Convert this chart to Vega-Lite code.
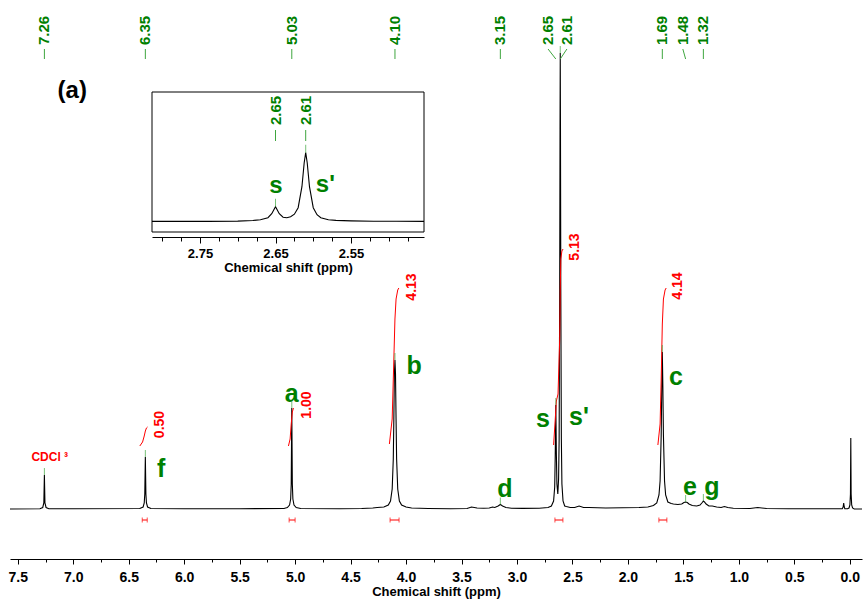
{
  "$schema": "https://vega.github.io/schema/vega-lite/v6.json",
  "width": 852,
  "height": 559,
  "autosize": {"type": "none"},
  "padding": {"left": 10, "top": 0, "right": 5, "bottom": 41},
  "config": {"view": {"stroke": null}, "font": "Liberation Sans"},
  "data": {"values": [
      {"ppm": -0.11, "i": 0}, {"ppm": -0.04, "i": 0}, {"ppm": -0.025, "i": 1}, {"ppm": -0.017, "i": 4}, {"ppm": -0.012, "i": 15}, {"ppm": -0.009, "i": 71}, {"ppm": -0.006, "i": 15}, {"ppm": -0.001, "i": 4}, {"ppm": 0.007, "i": 1}, {"ppm": 0.02, "i": 0.3},
      {"ppm": 0.045, "i": 0.3}, {"ppm": 0.05, "i": 2}, {"ppm": 0.055, "i": 6}, {"ppm": 0.06, "i": 2}, {"ppm": 0.068, "i": 0.3}, {"ppm": 0.3, "i": 0.3}, {"ppm": 0.55, "i": 0.2}, {"ppm": 0.75, "i": 0.5}, {"ppm": 0.83, "i": 1.5}, {"ppm": 0.9, "i": 0.5},
      {"ppm": 1.05, "i": 0.8}, {"ppm": 1.1, "i": 1.5}, {"ppm": 1.13, "i": 2.5}, {"ppm": 1.16, "i": 1.5}, {"ppm": 1.2, "i": 2}, {"ppm": 1.24, "i": 3}, {"ppm": 1.27, "i": 3}, {"ppm": 1.295, "i": 5}, {"ppm": 1.31, "i": 7}, {"ppm": 1.32, "i": 8},
      {"ppm": 1.33, "i": 6.5}, {"ppm": 1.35, "i": 4}, {"ppm": 1.38, "i": 3}, {"ppm": 1.42, "i": 3.5}, {"ppm": 1.45, "i": 5}, {"ppm": 1.465, "i": 6.5}, {"ppm": 1.48, "i": 7}, {"ppm": 1.495, "i": 6.5}, {"ppm": 1.515, "i": 5}, {"ppm": 1.55, "i": 4.5},
      {"ppm": 1.59, "i": 5}, {"ppm": 1.61, "i": 5.5}, {"ppm": 1.64, "i": 7}, {"ppm": 1.66, "i": 14}, {"ppm": 1.67, "i": 28}, {"ppm": 1.68, "i": 74}, {"ppm": 1.685, "i": 122}, {"ppm": 1.69, "i": 157}, {"ppm": 1.695, "i": 122}, {"ppm": 1.7, "i": 74},
      {"ppm": 1.71, "i": 28}, {"ppm": 1.72, "i": 14}, {"ppm": 1.74, "i": 6}, {"ppm": 1.77, "i": 3.5}, {"ppm": 1.82, "i": 2}, {"ppm": 1.9, "i": 1.5}, {"ppm": 2.05, "i": 1.2}, {"ppm": 2.2, "i": 1}, {"ppm": 2.35, "i": 1.5}, {"ppm": 2.4, "i": 1.5},
      {"ppm": 2.44, "i": 3}, {"ppm": 2.48, "i": 1.5}, {"ppm": 2.52, "i": 1.5}, {"ppm": 2.555, "i": 2.5}, {"ppm": 2.57, "i": 3}, {"ppm": 2.585, "i": 8}, {"ppm": 2.595, "i": 25}, {"ppm": 2.6, "i": 70}, {"ppm": 2.605, "i": 220}, {"ppm": 2.608, "i": 380},
      {"ppm": 2.61, "i": 456}, {"ppm": 2.612, "i": 380}, {"ppm": 2.615, "i": 220}, {"ppm": 2.62, "i": 70}, {"ppm": 2.625, "i": 30}, {"ppm": 2.632, "i": 15}, {"ppm": 2.64, "i": 25}, {"ppm": 2.645, "i": 55}, {"ppm": 2.65, "i": 104}, {"ppm": 2.655, "i": 55},
      {"ppm": 2.66, "i": 22}, {"ppm": 2.67, "i": 8}, {"ppm": 2.69, "i": 3}, {"ppm": 2.72, "i": 1.5}, {"ppm": 2.8, "i": 0.8}, {"ppm": 2.95, "i": 0.6}, {"ppm": 3.05, "i": 0.8}, {"ppm": 3.1, "i": 1.5}, {"ppm": 3.13, "i": 3}, {"ppm": 3.15, "i": 4.5},
      {"ppm": 3.17, "i": 3}, {"ppm": 3.2, "i": 1.5}, {"ppm": 3.22, "i": 2}, {"ppm": 3.25, "i": 1}, {"ppm": 3.3, "i": 0.8}, {"ppm": 3.36, "i": 1}, {"ppm": 3.41, "i": 2}, {"ppm": 3.45, "i": 0.5}, {"ppm": 3.6, "i": 0.3}, {"ppm": 3.8, "i": 0.5},
      {"ppm": 3.95, "i": 1}, {"ppm": 4.0, "i": 2}, {"ppm": 4.04, "i": 4}, {"ppm": 4.06, "i": 8}, {"ppm": 4.075, "i": 20}, {"ppm": 4.085, "i": 50}, {"ppm": 4.09, "i": 90}, {"ppm": 4.095, "i": 135}, {"ppm": 4.1, "i": 149}, {"ppm": 4.105, "i": 135},
      {"ppm": 4.11, "i": 90}, {"ppm": 4.115, "i": 50}, {"ppm": 4.125, "i": 20}, {"ppm": 4.14, "i": 8}, {"ppm": 4.16, "i": 4}, {"ppm": 4.2, "i": 2}, {"ppm": 4.26, "i": 1.5}, {"ppm": 4.3, "i": 1}, {"ppm": 4.4, "i": 0.5}, {"ppm": 4.6, "i": 0.3},
      {"ppm": 4.95, "i": 0.5}, {"ppm": 4.99, "i": 1.5}, {"ppm": 5.01, "i": 4}, {"ppm": 5.02, "i": 10}, {"ppm": 5.025, "i": 25}, {"ppm": 5.03, "i": 101}, {"ppm": 5.035, "i": 25}, {"ppm": 5.04, "i": 10}, {"ppm": 5.05, "i": 4}, {"ppm": 5.07, "i": 1.5},
      {"ppm": 5.1, "i": 0.5}, {"ppm": 5.5, "i": 0.3}, {"ppm": 6.0, "i": 0.3}, {"ppm": 6.3, "i": 0.5}, {"ppm": 6.33, "i": 2}, {"ppm": 6.34, "i": 6}, {"ppm": 6.345, "i": 15}, {"ppm": 6.35, "i": 52}, {"ppm": 6.355, "i": 15}, {"ppm": 6.36, "i": 6},
      {"ppm": 6.37, "i": 2}, {"ppm": 6.4, "i": 0.5}, {"ppm": 7.0, "i": 0.3}, {"ppm": 7.22, "i": 0.3}, {"ppm": 7.245, "i": 1.5}, {"ppm": 7.255, "i": 6}, {"ppm": 7.26, "i": 34}, {"ppm": 7.265, "i": 6}, {"ppm": 7.275, "i": 1.5}, {"ppm": 7.3, "i": 0.3},
      {"ppm": 7.57, "i": 0}
  ]},
  "layer": [
    {
      "mark": {"type": "line", "color": "black", "strokeWidth": 1.1},
      "encoding": {
        "x": {
          "field": "ppm", "type": "quantitative",
          "scale": {"domain": [-0.11, 7.57], "reverse": true, "nice": false, "zero": false},
          "axis": {
            "orient": "bottom",
            "title": "Chemical shift (ppm)",
            "values": [0, 0.5, 1, 1.5, 2, 2.5, 3, 3.5, 4, 4.5, 5, 5.5, 6, 6.5, 7, 7.5],
            "format": ".1f",
            "tickSize": 5,
            "grid": false, "domainColor": "#000", "tickColor": "#000",
            "labelColor": "#000", "labelFontSize": 14, "labelFontWeight": "bold", "labelPadding": 6,
            "labelFlush": false, "labelOverlap": false,
            "titleColor": "#000", "titleFontSize": 13, "titleFontWeight": "bold", "titlePadding": 1
          }
        },
        "y": {"field": "i", "type": "quantitative", "scale": {"domain": [-50, 509], "nice": false, "zero": false}, "axis": null}
      }
    },
    {
      "data": {"values": [
        {"g": "f", "ppm": 6.4, "i": 63}, {"g": "f", "ppm": 6.375, "i": 67}, {"g": "f", "ppm": 6.36, "i": 73}, {"g": "f", "ppm": 6.35, "i": 78}, {"g": "f", "ppm": 6.34, "i": 81}, {"g": "f", "ppm": 6.33, "i": 82},
        {"g": "a", "ppm": 5.06, "i": 63}, {"g": "a", "ppm": 5.045, "i": 70}, {"g": "a", "ppm": 5.035, "i": 85}, {"g": "a", "ppm": 5.025, "i": 97}, {"g": "a", "ppm": 5.015, "i": 101},
        {"g": "b", "ppm": 4.15, "i": 65}, {"g": "b", "ppm": 4.125, "i": 90}, {"g": "b", "ppm": 4.11, "i": 150}, {"g": "b", "ppm": 4.1, "i": 190}, {"g": "b", "ppm": 4.09, "i": 210}, {"g": "b", "ppm": 4.075, "i": 219}, {"g": "b", "ppm": 4.065, "i": 221},
        {"g": "s", "ppm": 2.67, "i": 64}, {"g": "s", "ppm": 2.655, "i": 90}, {"g": "s", "ppm": 2.645, "i": 108}, {"g": "s", "ppm": 2.63, "i": 115}, {"g": "s", "ppm": 2.615, "i": 170}, {"g": "s", "ppm": 2.61, "i": 220}, {"g": "s", "ppm": 2.605, "i": 250}, {"g": "s", "ppm": 2.595, "i": 258}, {"g": "s", "ppm": 2.585, "i": 260},
        {"g": "c", "ppm": 1.73, "i": 64}, {"g": "c", "ppm": 1.71, "i": 85}, {"g": "c", "ppm": 1.7, "i": 130}, {"g": "c", "ppm": 1.69, "i": 185}, {"g": "c", "ppm": 1.68, "i": 210}, {"g": "c", "ppm": 1.665, "i": 219}, {"g": "c", "ppm": 1.655, "i": 221}
      ]},
      "mark": {"type": "line", "color": "#ff0000", "strokeWidth": 1},
      "encoding": {
        "x": {
          "field": "ppm", "type": "quantitative",
          "scale": {"domain": [-0.11, 7.57], "reverse": true, "nice": false, "zero": false},
          "axis": {
            "orient": "bottom", "title": null,
            "values": [0.25, 0.75, 1.25, 1.75, 2.25, 2.75, 3.25, 3.75, 4.25, 4.75, 5.25, 5.75, 6.25, 6.75, 7.25],
            "tickSize": 3, "labels": false, "domain": false, "grid": false, "tickColor": "#000"
          }
        },
        "y": {"field": "i", "type": "quantitative", "scale": {"domain": [-50, 509], "nice": false, "zero": false}, "axis": null},
        "detail": {"field": "g", "type": "nominal"}
      }
    },
    {
      "data": {"values": [
        {"x1": 6.378, "x2": 6.333, "yb": -11},
        {"x1": 5.054, "x2": 5.0, "yb": -11},
        {"x1": 4.144, "x2": 4.063, "yb": -11},
        {"x1": 2.658, "x2": 2.586, "yb": -11},
        {"x1": 1.721, "x2": 1.649, "yb": -11}
      ]},
      "mark": {"type": "errorbar", "color": "#ff0000", "ticks": {"size": 5, "color": "#ff0000"}, "rule": {"color": "#ff0000"}},
      "encoding": {
        "x": {"field": "x1", "type": "quantitative", "scale": {"domain": [-0.11, 7.57], "reverse": true, "nice": false, "zero": false}, "axis": null},
        "x2": {"field": "x2"},
        "y": {"field": "yb", "type": "quantitative", "scale": {"domain": [-50, 509], "nice": false, "zero": false}, "axis": null}
      }
    },
    {
      "data": {"values": [
        {"t": "0.50", "ppm": 6.216, "i": 84.5},
        {"t": "1.00", "ppm": 4.892, "i": 104},
        {"t": "4.13", "ppm": 3.946, "i": 222},
        {"t": "5.13", "ppm": 2.473, "i": 262},
        {"t": "4.14", "ppm": 1.55, "i": 223}
      ]},
      "mark": {"type": "text", "color": "#ff0000", "fontSize": 14, "fontWeight": "bold", "angle": 270, "align": "center", "baseline": "middle"},
      "encoding": {
        "x": {"field": "ppm", "type": "quantitative", "scale": {"domain": [-0.11, 7.57], "reverse": true, "nice": false, "zero": false}, "axis": null},
        "y": {"field": "i", "type": "quantitative", "scale": {"domain": [-50, 509], "nice": false, "zero": false}, "axis": null},
        "text": {"field": "t", "type": "nominal"}
      }
    },
    {
      "data": {"values": [
        {"ppm": 7.26, "lx": 7.26, "label": "7.26", "h": 34},
        {"ppm": 6.35, "lx": 6.35, "label": "6.35", "h": 52},
        {"ppm": 5.03, "lx": 5.03, "label": "5.03", "h": 101},
        {"ppm": 4.1, "lx": 4.1, "label": "4.10", "h": 149},
        {"ppm": 3.15, "lx": 3.15, "label": "3.15", "h": 4.5},
        {"ppm": 2.65, "lx": 2.72, "label": "2.65", "h": 104},
        {"ppm": 2.61, "lx": 2.55, "label": "2.61", "h": 456},
        {"ppm": 1.69, "lx": 1.69, "label": "1.69", "h": 157},
        {"ppm": 1.48, "lx": 1.505, "label": "1.48", "h": 7},
        {"ppm": 1.32, "lx": 1.32, "label": "1.32", "h": 8}
      ]},
      "layer": [
        {
          "mark": {"type": "tick", "color": "#3fa63f", "orient": "vertical", "size": 7, "thickness": 1, "yOffset": -3.5},
          "encoding": {
            "x": {"field": "ppm", "type": "quantitative", "scale": {"domain": [-0.11, 7.57], "reverse": true, "nice": false, "zero": false}, "axis": null},
            "y": {"field": "h", "type": "quantitative", "scale": {"domain": [-50, 509], "nice": false, "zero": false}, "axis": null}
          }
        },
        {
          "mark": {"type": "rule", "color": "#3fa63f", "strokeWidth": 1},
          "encoding": {
            "x": {"field": "lx", "type": "quantitative", "scale": {"domain": [-0.11, 7.57], "reverse": true, "nice": false, "zero": false}, "axis": null},
            "x2": {"field": "ppm"},
            "y": {"datum": 460, "type": "quantitative", "scale": {"domain": [-50, 509], "nice": false, "zero": false}, "axis": null},
            "y2": {"datum": 450}
          }
        },
        {
          "mark": {"type": "text", "color": "#008000", "fontSize": 15, "fontWeight": "bold", "angle": 270, "align": "left", "baseline": "middle"},
          "encoding": {
            "x": {"field": "lx", "type": "quantitative", "scale": {"domain": [-0.11, 7.57], "reverse": true, "nice": false, "zero": false}, "axis": null},
            "y": {"datum": 464, "type": "quantitative", "scale": {"domain": [-50, 509], "nice": false, "zero": false}, "axis": null},
            "text": {"field": "label", "type": "nominal"}
          }
        }
      ]
    },
    {
      "data": {"values": [
        {"t": "a", "ppm": 5.03, "i": 107},
        {"t": "b", "ppm": 3.928, "i": 135},
        {"t": "c", "ppm": 1.568, "i": 124},
        {"t": "d", "ppm": 3.108, "i": 12},
        {"t": "e", "ppm": 1.441, "i": 14},
        {"t": "f", "ppm": 6.207, "i": 32},
        {"t": "g", "ppm": 1.243, "i": 14},
        {"t": "s", "ppm": 2.766, "i": 82},
        {"t": "s'", "ppm": 2.441, "i": 84}
      ]},
      "mark": {"type": "text", "color": "#008000", "fontSize": 25, "fontWeight": "bold", "align": "center", "baseline": "alphabetic"},
      "encoding": {
        "x": {"field": "ppm", "type": "quantitative", "scale": {"domain": [-0.11, 7.57], "reverse": true, "nice": false, "zero": false}, "axis": null},
        "y": {"field": "i", "type": "quantitative", "scale": {"domain": [-50, 509], "nice": false, "zero": false}, "axis": null},
        "text": {"field": "t", "type": "nominal"}
      }
    },
    {
      "data": {"values": [{"t": "CDCl ³", "ppm": 7.212, "i": 48}]},
      "mark": {"type": "text", "color": "#ff0000", "fontSize": 12, "fontWeight": "bold", "align": "center", "baseline": "alphabetic"},
      "encoding": {
        "x": {"field": "ppm", "type": "quantitative", "scale": {"domain": [-0.11, 7.57], "reverse": true, "nice": false, "zero": false}, "axis": null},
        "y": {"field": "i", "type": "quantitative", "scale": {"domain": [-50, 509], "nice": false, "zero": false}, "axis": null},
        "text": {"field": "t", "type": "nominal"}
      }
    },
    {
      "data": {"values": [{"t": "(a)", "ppm": 7.009, "i": 411}]},
      "mark": {"type": "text", "color": "#000000", "fontSize": 24, "fontWeight": "bold", "align": "center", "baseline": "alphabetic"},
      "encoding": {
        "x": {"field": "ppm", "type": "quantitative", "scale": {"domain": [-0.11, 7.57], "reverse": true, "nice": false, "zero": false}, "axis": null},
        "y": {"field": "i", "type": "quantitative", "scale": {"domain": [-50, 509], "nice": false, "zero": false}, "axis": null},
        "text": {"field": "t", "type": "nominal"}
      }
    },
    {
      "data": {"values": [
        {"ppm": 2.4533, "i": 0.3}, {"ppm": 2.49, "i": 0.4}, {"ppm": 2.52, "i": 0.5}, {"ppm": 2.55, "i": 0.8}, {"ppm": 2.57, "i": 1.3}, {"ppm": 2.58, "i": 2}, {"ppm": 2.59, "i": 4}, {"ppm": 2.595, "i": 7}, {"ppm": 2.6, "i": 14}, {"ppm": 2.605, "i": 35},
        {"ppm": 2.608, "i": 59}, {"ppm": 2.61, "i": 69}, {"ppm": 2.612, "i": 59}, {"ppm": 2.615, "i": 35}, {"ppm": 2.62, "i": 14}, {"ppm": 2.625, "i": 7.5}, {"ppm": 2.63, "i": 5}, {"ppm": 2.635, "i": 4}, {"ppm": 2.64, "i": 4.5}, {"ppm": 2.645, "i": 8},
        {"ppm": 2.65, "i": 15}, {"ppm": 2.655, "i": 8}, {"ppm": 2.66, "i": 4}, {"ppm": 2.67, "i": 2}, {"ppm": 2.68, "i": 1.2}, {"ppm": 2.7, "i": 0.6}, {"ppm": 2.74, "i": 0.3}, {"ppm": 2.78, "i": 0.3}, {"ppm": 2.8136, "i": 0.3}
      ]},
      "mark": {"type": "line", "color": "black", "strokeWidth": 1.1},
      "encoding": {
        "x": {
          "field": "ppm", "type": "quantitative",
          "scale": {"domain": [2.4533, 2.8136], "range": [142, 414], "reverse": true, "nice": false, "zero": false},
          "axis": {
            "orient": "bottom", "offset": -322,
            "title": "Chemical shift (ppm)",
            "values": [2.55, 2.65, 2.75],
            "format": ".2f",
            "tickSize": 6,
            "grid": false, "domainColor": "#000", "tickColor": "#000",
            "labelColor": "#000", "labelFontSize": 13, "labelFontWeight": "bold", "labelPadding": 4,
            "labelFlush": false, "labelOverlap": false,
            "titleColor": "#000", "titleFontSize": 13, "titleFontWeight": "bold", "titlePadding": 1
          }
        },
        "y": {"field": "i", "type": "quantitative", "scale": {"domain": [-10.3, 129.7], "range": [232, 92], "nice": false, "zero": false}, "axis": null}
      }
    },
    {
      "data": {"values": [{"x1": 2.8136, "x2": 2.4533, "y1": -10.3, "y2": 129.7}]},
      "mark": {"type": "rect", "filled": false, "stroke": "black", "strokeWidth": 1},
      "encoding": {
        "x": {
          "field": "x1", "type": "quantitative",
          "scale": {"domain": [2.4533, 2.8136], "range": [142, 414], "reverse": true, "nice": false, "zero": false},
          "axis": {
            "orient": "bottom", "offset": -322, "title": null,
            "values": [2.475, 2.5, 2.525, 2.575, 2.6, 2.625, 2.675, 2.7, 2.725, 2.775, 2.8],
            "tickSize": 4, "labels": false, "domain": false, "grid": false, "tickColor": "#000"
          }
        },
        "x2": {"field": "x2"},
        "y": {"field": "y1", "type": "quantitative", "scale": {"domain": [-10.3, 129.7], "range": [232, 92], "nice": false, "zero": false}, "axis": null},
        "y2": {"field": "y2"}
      }
    },
    {
      "data": {"values": [
        {"ppm": 2.65, "label": "2.65", "h": 15},
        {"ppm": 2.61, "label": "2.61", "h": 69}
      ]},
      "layer": [
        {
          "mark": {"type": "tick", "color": "#3fa63f", "orient": "vertical", "size": 8, "thickness": 1, "yOffset": -4},
          "encoding": {
            "x": {"field": "ppm", "type": "quantitative", "scale": {"domain": [2.4533, 2.8136], "range": [142, 414], "reverse": true, "nice": false, "zero": false}, "axis": null},
            "y": {"field": "h", "type": "quantitative", "scale": {"domain": [-10.3, 129.7], "range": [232, 92], "nice": false, "zero": false}, "axis": null}
          }
        },
        {
          "mark": {"type": "rule", "color": "#3fa63f", "strokeWidth": 1},
          "encoding": {
            "x": {"field": "ppm", "type": "quantitative", "scale": {"domain": [2.4533, 2.8136], "range": [142, 414], "reverse": true, "nice": false, "zero": false}, "axis": null},
            "y": {"datum": 91.7, "type": "quantitative", "scale": {"domain": [-10.3, 129.7], "range": [232, 92], "nice": false, "zero": false}, "axis": null},
            "y2": {"datum": 80.7}
          }
        },
        {
          "mark": {"type": "text", "color": "#008000", "fontSize": 15, "fontWeight": "bold", "angle": 270, "align": "left", "baseline": "middle"},
          "encoding": {
            "x": {"field": "ppm", "type": "quantitative", "scale": {"domain": [2.4533, 2.8136], "range": [142, 414], "reverse": true, "nice": false, "zero": false}, "axis": null},
            "y": {"datum": 96.7, "type": "quantitative", "scale": {"domain": [-10.3, 129.7], "range": [232, 92], "nice": false, "zero": false}, "axis": null},
            "text": {"field": "label", "type": "nominal"}
          }
        }
      ]
    },
    {
      "data": {"values": [
        {"t": "s", "ppm": 2.6493, "i": 28.7},
        {"t": "s'", "ppm": 2.584, "i": 30}
      ]},
      "mark": {"type": "text", "color": "#008000", "fontSize": 24, "fontWeight": "bold", "align": "center", "baseline": "alphabetic"},
      "encoding": {
        "x": {"field": "ppm", "type": "quantitative", "scale": {"domain": [2.4533, 2.8136], "range": [142, 414], "reverse": true, "nice": false, "zero": false}, "axis": null},
        "y": {"field": "i", "type": "quantitative", "scale": {"domain": [-10.3, 129.7], "range": [232, 92], "nice": false, "zero": false}, "axis": null},
        "text": {"field": "t", "type": "nominal"}
      }
    }
  ],
  "resolve": {"scale": {"x": "independent", "y": "independent"}}
}
